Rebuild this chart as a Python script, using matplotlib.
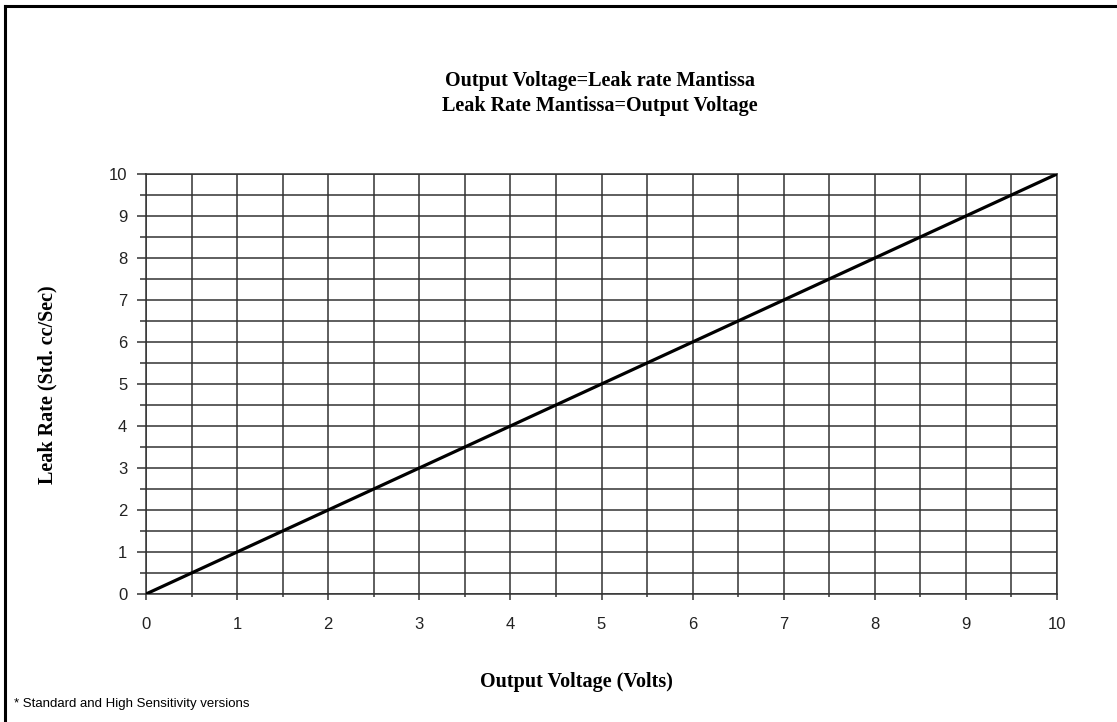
import matplotlib.pyplot as plt
import matplotlib.lines as mlines
from matplotlib.ticker import MultipleLocator

# Leak rate mantissa tracks the output voltage one-to-one
voltage = [0, 1, 2, 3, 4, 5, 6, 7, 8, 9, 10]
leak_rate = [0, 1, 2, 3, 4, 5, 6, 7, 8, 9, 10]
ticks = [0, 1, 2, 3, 4, 5, 6, 7, 8, 9, 10]

W, H = 1117, 722
fig = plt.figure(figsize=(W / 100, H / 100), dpi=100)
ax = fig.add_axes([146 / W, 1 - 594 / H, (1057 - 146) / W, (594 - 174) / H])

grid_c = "#333333"
ax.plot(voltage, leak_rate, color="black", lw=2.3, solid_capstyle="butt", zorder=3)

ax.set_xlim(0, 10)
ax.set_ylim(0, 10)
ax.set_xticks(ticks)
ax.set_yticks(ticks)
ax.xaxis.set_minor_locator(MultipleLocator(0.5))
ax.yaxis.set_minor_locator(MultipleLocator(0.5))
ax.grid(True, which="both", color=grid_c, lw=1.1)
ax.set_axisbelow(True)
for s in ax.spines.values():
    s.set_color(grid_c)
    s.set_linewidth(1.1)

ax.tick_params(axis="y", which="major", direction="out", length=6.5, width=1.1,
               color=grid_c, pad=7, labelsize=12)
ax.tick_params(axis="y", which="minor", direction="out", length=4.5, width=1.1, color=grid_c)
ax.tick_params(axis="x", which="major", direction="out", length=4.5, width=1.1,
               color=grid_c, pad=12, labelsize=12)
ax.tick_params(axis="x", which="minor", direction="out", length=2.2, width=1.1, color=grid_c)
for lab in ax.get_xticklabels() + ax.get_yticklabels():
    lab.set_family("Liberation Sans")
    lab.set_color("#222222")

serif = "Liberation Serif"
fs = 14.5
fig.text(600 / W, 1 - 81 / H, "Output Voltage=Leak rate Mantissa", ha="center", va="center",
         family=serif, weight="bold", fontsize=fs)
fig.text(600 / W, 1 - 106 / H, "Leak Rate Mantissa=Output Voltage", ha="center", va="center",
         family=serif, weight="bold", fontsize=fs)
fig.text(47 / W, 1 - 385 / H, "Leak Rate (Std. cc/Sec)", rotation=90, ha="center", va="center",
         family=serif, weight="bold", fontsize=fs)
fig.text(576 / W, 1 - 682 / H, "Output Voltage (Volts)", ha="center", va="center",
         family=serif, weight="bold", fontsize=fs)
fig.text(14 / W, 1 - 704 / H, "* Standard and High Sensitivity versions", ha="left", va="center",
         family="Liberation Sans", fontsize=9.5)

# frame around the chart (top and left edges)
fig.add_artist(mlines.Line2D([5 / W, 5 / W], [0, 1 - 6 / H], color="black", lw=2.2,
                             transform=fig.transFigure))
fig.add_artist(mlines.Line2D([5 / W, 1], [1 - 6 / H, 1 - 6 / H], color="black", lw=2.2,
                             transform=fig.transFigure))

fig.savefig("out.png", dpi=100)
